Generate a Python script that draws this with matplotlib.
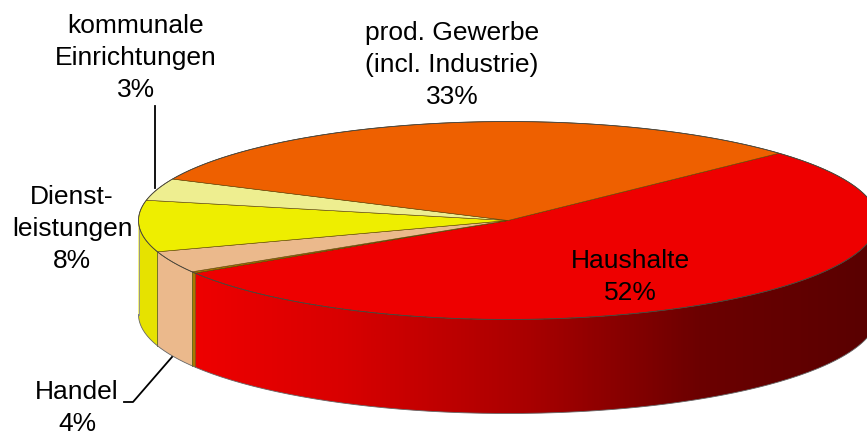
import numpy as np
import matplotlib
matplotlib.use("Agg")
import matplotlib.pyplot as plt
from matplotlib.colors import LinearSegmentedColormap
from matplotlib.patches import Polygon

# ----------------------------------------------------------------------
# data, clockwise from the orange/red border (angles as they look on the picture)
names = ["Haushalte", "Verkehr", "Handel", "Dienstleistungen", "kommunale", "prod. Gewerbe"]
shares = [52.97, 0.25, 3.55, 8.4, 3.6, 31.23]
label_texts = ["Haushalte\n52%", "Handel\n4%", "Dienst-\nleistungen\n8%",
               "kommunale\nEinrichtungen\n3%", "prod. Gewerbe\n(incl. Industrie)\n33%"]

top_colors = ["#ee0000", "#a87800", "#ebb98c", "#eeee00", "#eeee90", "#ee6000"]
side_colors = [None, "#a87800", "#ebb98c", "#e6e200", "#e6e690", "#c05000"]

# ----------------------------------------------------------------------
# geometry in pixels
CX, CY = 508, 220.5
RX, RY = 369.5, 99
DEPTH = 94
START = 42.8

plt.rcParams["font.family"] = ["Liberation Sans", "DejaVu Sans"]
fig = plt.figure(figsize=(8.67, 4.37), dpi=100)
ax = fig.add_axes([0, 0, 1, 1])

red_side = LinearSegmentedColormap.from_list(
    "red_side", [(0, "#ee0000"), (0.22, "#d80000"), (0.5, "#a80000"),
                 (0.75, "#6c0000"), (1, "#5a0000")])


def ell(a):
    a = np.radians(a)
    return CX + RX * np.cos(a), CY - RY * np.sin(a)


edges = START - np.cumsum([0] + shares) * 3.6

# sides, only the front half of the rim shows
for i in range(len(shares)):
    a0, a1 = edges[i], edges[i + 1]
    lo, hi = max(a1, -180), min(a0, 0)
    if hi <= lo:
        continue
    t = np.linspace(lo, hi, 200)
    x, y = ell(t)
    pts = np.c_[np.r_[x, x[::-1]], np.r_[y, y[::-1] + DEPTH]]
    if i == 0:
        # gradient clipped to the rim piece
        grad = np.linspace(0, 1, 400)[None, :]
        im = ax.imshow(grad, cmap=red_side, extent=[195, 867, 437, 0], aspect="auto", zorder=1)
        im.set_clip_path(Polygon(pts, closed=True, transform=ax.transData))
    else:
        ax.fill(pts[:, 0], pts[:, 1], color=side_colors[i], lw=0, zorder=1)
        ax.plot([x[0], x[0]], [y[0], y[0] + DEPTH], color="#6b6b20", lw=0.5, zorder=2)
        ax.plot([x[-1], x[-1]], [y[-1], y[-1] + DEPTH], color="#6b6b20", lw=0.5, zorder=2)

ax.set_xlim(0, 867)
ax.set_ylim(437, 0)
ax.axis("off")

# outer outline of the disc
t = np.linspace(-180, 0, 300)
x, y = ell(t)
ax.plot(x, y + DEPTH, color="#666666", lw=0.6, zorder=2)
lx, ly = ell(180)
ax.plot([lx, lx], [ly, ly + DEPTH], color="#999999", lw=0.6, zorder=2)

# top faces
for i in range(len(shares)):
    t = np.linspace(edges[i], edges[i + 1], 200)
    x, y = ell(t)
    ax.fill(np.r_[CX, x], np.r_[CY, y], facecolor=top_colors[i],
            edgecolor="#5a4000", lw=0.4, zorder=3)

t = np.linspace(0, 360, 500)
x, y = ell(t)
ax.plot(x, y, color="#444444", lw=0.6, zorder=4)

# leader lines
ax.plot([154.5, 154.5], [106, 188], color="black", lw=1.3, zorder=5)
ax.plot([124, 133, 172], [402, 402, 357], color="black", lw=1.3, zorder=5)

# labels
label_pos = [(630, 277), (77, 408), (72, 229), (136, 58), (452, 65)]
for txt, (lx, ly) in zip(label_texts, label_pos):
    ax.text(lx, ly, txt, ha="center", va="center", fontsize=19,
            linespacing=1.44, color="black", zorder=6)

fig.savefig("out.png", dpi=100)
